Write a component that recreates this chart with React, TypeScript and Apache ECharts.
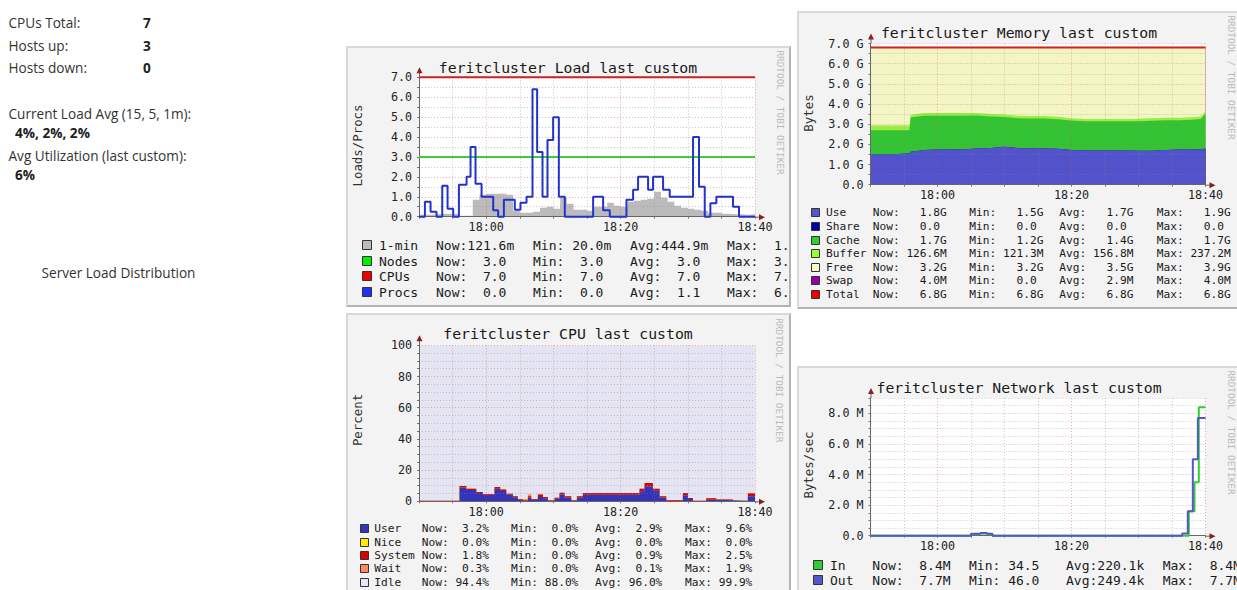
import React, { useEffect, useRef } from 'react';
import * as echarts from 'echarts';

const MONO = '"DejaVu Sans Mono", monospace';
const SANS = '"Open Sans", sans-serif';
const MAJOR = 'rgba(210,80,80,0.45)';
const MINOR = 'rgba(140,140,140,0.45)';

// ---- time axis (minutes relative to 18:00) ----
const timeTickValues = [0, 20, 40];
const timeTickLabels = ['18:00', '18:20', '18:40'];
const flatT = [-10, 40];

// ---- Load ----
const oneMinT = [-10, -9, -8, -7, -6, -5, -4, -3, -2, -1, 0, 1, 2, 3, 4, 5, 6, 7, 8, 9, 10, 11, 12, 13, 14, 15, 16, 17, 18, 19, 20, 21, 22, 23, 24, 25, 26, 27, 28, 29, 30, 31, 32, 33, 34, 35, 36, 37, 38, 39, 40];
const oneMinLoad = [0.10, 0.10, 0.12, 0.15, 0.15, 0.12, 0.05, 0.05, 0.85, 1.10, 1.15, 1.15, 1.15, 1.10, 0.30, 0.20, 0.20, 0.25, 0.45, 0.50, 0.40, 0.95, 0.65, 0.35, 0.35, 0.30, 0.50, 0.50, 0.70, 0.55, 0.50, 0.75, 0.80, 0.85, 0.90, 1.25, 0.95, 0.75, 0.55, 0.45, 0.40, 0.35, 0.30, 0.20, 0.20, 0.15, 0.12, 0.12, 0.10, 0.12, 0.12];
const procsT = [-10, -9.12, -8.28, -7.39, -6.54, -5.75, -4.91, -4.06, -2.92, -2.33, -1.59, -0.69, 1.04, 1.78, 2.63, 4.26, 5.10, 6.0, 6.89, 7.58, 8.38, 9.12, 9.96, 10.81, 11.70, 15.91, 17.40, 18.39, 20.87, 21.86, 22.6, 24.09, 24.83, 26.32, 27.31, 30.78, 31.67, 32.52, 33.36, 34.25, 36.73, 37.62, 40];
const procsCount = [0, 0.75, 0.25, 0, 1.55, 0.4, 0, 1.6, 2.0, 3.5, 1.65, 1.0, 0.33, 0, 0.85, 0.35, 0.7, 1.0, 6.4, 3.25, 1.0, 3.85, 5.0, 1.0, 0, 1.0, 0.33, 0, 0.85, 1.35, 2.0, 1.35, 2.0, 1.35, 1.0, 4.0, 1.5, 0, 0.67, 1.0, 0.5, 0, 0];
const nodesCount = [3.0, 3.0];
const cpusCount = [7.0, 7.0];
const loadTickValues = [0, 1, 2, 3, 4, 5, 6, 7];
const loadTickLabels = ['0.0', '1.0', '2.0', '3.0', '4.0', '5.0', '6.0', '7.0'];

// ---- Memory (GB) ----
const memT = [-10, -8, -6, -4.2, -4, -2, 0, 2, 4, 6, 8, 10, 12, 14, 16, 18, 20, 22, 24, 26, 28, 30, 32, 34, 36, 38, 39.3, 40];
const memUse = [1.5, 1.5, 1.52, 1.55, 1.63, 1.72, 1.75, 1.75, 1.76, 1.8, 1.82, 1.88, 1.82, 1.8, 1.8, 1.78, 1.72, 1.7, 1.7, 1.7, 1.7, 1.68, 1.68, 1.72, 1.74, 1.75, 1.76, 1.8];
const memShare = [0, 0, 0, 0, 0, 0, 0, 0, 0, 0, 0, 0, 0, 0, 0, 0, 0, 0, 0, 0, 0, 0, 0, 0, 0, 0, 0, 0];
const memCache = [1.2, 1.2, 1.18, 1.15, 1.7, 1.7, 1.67, 1.67, 1.66, 1.63, 1.56, 1.48, 1.48, 1.48, 1.48, 1.47, 1.46, 1.44, 1.44, 1.44, 1.44, 1.47, 1.49, 1.48, 1.46, 1.47, 1.5, 1.7];
const memBuffer = [0.23, 0.23, 0.23, 0.23, 0.14, 0.13, 0.13, 0.13, 0.13, 0.13, 0.12, 0.12, 0.12, 0.12, 0.12, 0.12, 0.12, 0.12, 0.12, 0.12, 0.12, 0.12, 0.12, 0.12, 0.12, 0.12, 0.125, 0.127];
const memFree = [3.87, 3.87, 3.87, 3.87, 3.33, 3.25, 3.25, 3.25, 3.25, 3.24, 3.30, 3.32, 3.38, 3.40, 3.40, 3.43, 3.50, 3.54, 3.54, 3.54, 3.54, 3.53, 3.51, 3.48, 3.48, 3.46, 3.415, 3.17];
const memSwap = [0, 0, 0, 0, 0, 0.003, 0.003, 0.003, 0.003, 0.003, 0.003, 0.003, 0.003, 0.003, 0.003, 0.003, 0.003, 0.003, 0.003, 0.003, 0.003, 0.004, 0.004, 0.004, 0.004, 0.004, 0.004, 0.004];
const memTotal = [6.8, 6.8];
const memTickValues = [0, 1, 2, 3, 4, 5, 6, 7];
const memTickLabels = ['0.0', '1.0 G', '2.0 G', '3.0 G', '4.0 G', '5.0 G', '6.0 G', '7.0 G'];

// ---- CPU (%) ----
const cpuT = [-10, -3.96, -2.97, -1.48, -0.49, 1.24, 2.09, 2.98, 3.97, 4.72, 5.46, 6.21, 6.70, 7.69, 8.44, 9.18, 10.17, 10.92, 11.66, 12.65, 13.5, 14.39, 22.82, 23.57, 24.81, 25.8, 26.79, 29.27, 30.01, 30.76, 32.74, 34.23, 36.71, 38.94, 40];
const cpuUser = [0.2, 8.8, 7.3, 5.3, 4.0, 8.1, 6.6, 4.2, 2.6, 1.0, 0.4, 2.2, 1.0, 2.8, 1.9, 0.3, 1.6, 4.4, 2.5, 0.3, 2.4, 4.2, 6.5, 9.6, 6.8, 2.4, 0.1, 3.8, 1.4, 0.2, 1.0, 0.6, 0.2, 3.2, 3.2];
const cpuNice = [0, 0, 0, 0, 0, 0, 0, 0, 0, 0, 0, 0, 0, 0, 0, 0, 0, 0, 0, 0, 0, 0, 0, 0, 0, 0, 0, 0, 0, 0, 0, 0, 0, 0, 0];
const cpuSystem = [0.2, 1.0, 0.8, 0.7, 0.5, 1.1, 0.9, 0.7, 0.6, 0.5, 0.3, 1.0, 0.5, 1.5, 0.9, 0.3, 0.7, 1.1, 0.7, 0.3, 0.8, 1.1, 1.6, 2.1, 1.3, 0.8, 0.5, 1.5, 0.7, 0.2, 0.9, 0.5, 0.2, 1.8, 1.8];
const cpuWait = [0, 0, 0, 0, 0, 0, 0, 0, 0, 0, 0.8, 1.3, 0, 0, 0, 0, 0, 0, 0, 0, 0, 0, 0, 0, 0, 0, 0, 0, 0, 0, 0, 0, 0, 0.3, 0.3];
const cpuIdle = [99.6, 90.2, 91.9, 94.0, 95.5, 90.8, 92.5, 95.1, 96.8, 98.5, 98.5, 95.5, 98.5, 95.7, 97.2, 99.4, 97.7, 94.5, 96.8, 99.4, 96.8, 94.7, 91.9, 88.3, 91.9, 96.8, 99.4, 94.7, 97.9, 99.6, 98.1, 98.9, 99.6, 94.7, 94.7];
const cpuTickValues = [0, 20, 40, 60, 80, 100];
const cpuTickLabels = ['0', '20', '40', '60', '80', '100'];

// ---- Network (MB/s) ----
const netInT = [-10, 5.0, 6.4, 7.4, 8.2, 37.51, 38.36, 39.0, 40];
const netIn = [0.00004, 0.1, 0.15, 0.1, 0.00004, 1.6, 3.5, 8.4, 8.4];
const netOutT = [-10, 5.0, 6.4, 7.4, 8.2, 36.52, 37.36, 38.11, 38.86, 40];
const netOut = [0.00005, 0.12, 0.18, 0.12, 0.00005, 0.15, 1.6, 5.0, 7.7, 7.7];
const netTickValues = [0, 2, 4, 6, 8];
const netTickLabels = ['0.0', '2.0 M', '4.0 M', '6.0 M', '8.0 M'];

// ---- legends ----
const loadLegend = [
  { label: '1-min', color: '#bbbbbb', fields: ['Now:121.6m', 'Min: 20.0m', 'Avg:444.9m', 'Max:  1.2'] },
  { label: 'Nodes', color: '#00ee00', fields: ['Now:  3.0', 'Min:  3.0', 'Avg:  3.0', 'Max:  3.0'] },
  { label: 'CPUs', color: '#ee0000', fields: ['Now:  7.0', 'Min:  7.0', 'Avg:  7.0', 'Max:  7.0'] },
  { label: 'Procs', color: '#2030f4', fields: ['Now:  0.0', 'Min:  0.0', 'Avg:  1.1', 'Max:  6.4'] },
];
const memLegend = [
  { label: 'Use', color: '#5555cc', fields: ['Now:   1.8G', 'Min:   1.5G', 'Avg:   1.7G', 'Max:   1.9G'] },
  { label: 'Share', color: '#0000aa', fields: ['Now:   0.0', 'Min:   0.0', 'Avg:   0.0', 'Max:   0.0'] },
  { label: 'Cache', color: '#33cc33', fields: ['Now:   1.7G', 'Min:   1.2G', 'Avg:   1.4G', 'Max:   1.7G'] },
  { label: 'Buffer', color: '#99ff33', fields: ['Now: 126.6M', 'Min: 121.3M', 'Avg: 156.8M', 'Max: 237.2M'] },
  { label: 'Free', color: '#f8f8cc', fields: ['Now:   3.2G', 'Min:   3.2G', 'Avg:   3.5G', 'Max:   3.9G'] },
  { label: 'Swap', color: '#9900aa', fields: ['Now:   4.0M', 'Min:   0.0', 'Avg:   2.9M', 'Max:   4.0M'] },
  { label: 'Total', color: '#ee0000', fields: ['Now:   6.8G', 'Min:   6.8G', 'Avg:   6.8G', 'Max:   6.8G'] },
];
const cpuLegend = [
  { label: 'User', color: '#3333bb', fields: ['Now:  3.2%', 'Min:  0.0%', 'Avg:  2.9%', 'Max:  9.6%'] },
  { label: 'Nice', color: '#ffea00', fields: ['Now:  0.0%', 'Min:  0.0%', 'Avg:  0.0%', 'Max:  0.0%'] },
  { label: 'System', color: '#dd0000', fields: ['Now:  1.8%', 'Min:  0.0%', 'Avg:  0.9%', 'Max:  2.5%'] },
  { label: 'Wait', color: '#ff8a60', fields: ['Now:  0.3%', 'Min:  0.0%', 'Avg:  0.1%', 'Max:  1.9%'] },
  { label: 'Idle', color: '#e6e6f4', fields: ['Now: 94.4%', 'Min: 88.0%', 'Avg: 96.0%', 'Max: 99.9%'] },
];
const netLegend = [
  { label: 'In', color: '#33cc33', fields: ['Now:  8.4M', 'Min: 34.5', 'Avg:220.1k', 'Max:  8.4M'] },
  { label: 'Out', color: '#5555cc', fields: ['Now:  7.7M', 'Min: 46.0', 'Avg:249.4k', 'Max:  7.7M'] },
];

// ---- left summary ----
const summaryRows = [
  { label: 'CPUs Total:', value: '7' },
  { label: 'Hosts up:', value: '3' },
  { label: 'Hosts down:', value: '0' },
];
const loadAvgLabel = 'Current Load Avg (15, 5, 1m):';
const loadAvgValue = '4%, 2%, 2%';
const utilLabel = 'Avg Utilization (last custom):';
const utilValue = '6%';
const distLabel = 'Server Load Distribution';

const NB = (s: string) => s.replace(/ /g, '\u00a0');
const pairs = (t: number[], v: number[]) => t.map((x, i) => [x, v[i]]);
const pick = (ticks: number[], labels: string[]) => (v: number) => {
  const i = ticks.findIndex((t) => Math.abs(t - v) < 1e-6);
  return i >= 0 ? labels[i] : '';
};
// running totals of stacked layers (bottom layer first)
const stackTops = (layers: number[][]) => {
  const out: number[][] = [];
  layers.forEach((layer, k) => {
    out.push(layer.map((v, i) => (k === 0 ? v : out[k - 1][i] + v)));
  });
  return out;
};

function txt(x: number, y: number, text: string, font: string, fill: string, align = 'left', rotation = 0) {
  return {
    type: 'text', x, y, rotation, z: 100, silent: true,
    style: { text, font, fill, align, verticalAlign: 'middle', textAlign: align, textVerticalAlign: 'middle' },
  };
}

function buildOption(spec: any) {
  const { left: L, top: T, width: W, height: H } = spec.grid;
  const R = L + W;
  const B = T + H;
  const yColors = [MAJOR];
  for (let i = 1; i < spec.yMajorEvery; i++) yColors.push(MINOR);
  const lg = spec.legend;
  const font = `${lg.fontSize}px ${MONO}`;
  const graphic: any[] = [
    txt(220, spec.titleY, spec.title, `14.8px ${MONO}`, '#1a1a1a', 'center'),
    txt(spec.yNameX, spec.yNameY, spec.yName, `12.4px ${MONO}`, '#333', 'center', Math.PI / 2),
    txt(spec.rrdX, spec.rrdY, 'RRDTOOL / TOBI OETIKER', `9.4px ${MONO}`, '#b9b9b9', 'center', -Math.PI / 2),
    { type: 'line', z: 100, silent: true, shape: { x1: L + 0.5, y1: T, x2: L + 0.5, y2: T - 5 }, style: { stroke: '#666', lineWidth: 1 } },
    { type: 'polygon', z: 100, silent: true, shape: { points: [[L + 0.5, T - 10], [L - 2.5, T - 4], [L + 3.5, T - 4]] }, style: { fill: '#8b2020' } },
    { type: 'line', z: 100, silent: true, shape: { x1: R, y1: B + 0.5, x2: R + 5, y2: B + 0.5 }, style: { stroke: '#666', lineWidth: 1 } },
    { type: 'polygon', z: 100, silent: true, shape: { points: [[R + 10, B + 0.5], [R + 4, B - 2.5], [R + 4, B + 3.5]] }, style: { fill: '#8b2020' } },
  ];
  lg.rows.forEach((row: any, i: number) => {
    const y = lg.rowYs[i];
    const s = lg.swSize;
    graphic.push({
      type: 'rect', z: 100, silent: true,
      shape: { x: lg.swX + 0.5, y: Math.round(y - s / 2) + 0.5, width: s - 1, height: s - 1 },
      style: { fill: row.color, stroke: '#333', lineWidth: 1 },
    });
    graphic.push(txt(lg.labelX, y, NB(row.label), font, '#1a1a1a'));
    row.fields.forEach((f: string, j: number) => {
      graphic.push(txt(lg.fieldXs[j], y, NB(f), font, '#1a1a1a'));
    });
  });

  return {
    animation: false,
    grid: { left: L, top: T, width: W, height: H, show: true, backgroundColor: '#ffffff', borderWidth: 0 },
    xAxis: {
      type: 'value', min: -10, max: 40, interval: 5, z: 3,
      axisLine: { show: true, onZero: false, lineStyle: { color: '#666', width: 1 } },
      axisTick: { show: true, length: 2, lineStyle: { color: '#777' } },
      axisLabel: { margin: 4.5, fontFamily: MONO, fontSize: 11.7, color: '#222', formatter: pick(timeTickValues, timeTickLabels) },
      splitLine: { show: true, lineStyle: { color: [MINOR, MINOR, MAJOR, MINOR], width: 1, type: [1, 2] } },
    },
    yAxis: {
      type: 'value', min: 0, max: spec.yMax, interval: spec.yInterval, z: 3,
      axisLine: { show: true, onZero: false, lineStyle: { color: '#666', width: 1 } },
      axisTick: { show: true, length: 2, lineStyle: { color: '#777' } },
      axisLabel: { margin: 7, fontFamily: MONO, fontSize: 11.7, color: '#222', formatter: pick(spec.yTicks, spec.yLabels) },
      splitLine: { show: true, lineStyle: { color: yColors, width: 1, type: [1, 2] } },
    },
    series: spec.series,
    graphic,
  };
}

const areaS = (name: string, t: number[], v: number[], color: string, step: any) => ({
  type: 'line', name, data: pairs(t, v), step, symbol: 'none', silent: true, z: 2,
  lineStyle: { width: 0, color }, areaStyle: { color, opacity: 1 },
});
const lineS = (name: string, t: number[], v: number[], color: string, step: any, z = 5) => ({
  type: 'line', name, data: pairs(t, v), step, symbol: 'none', silent: true, z, clip: false,
  lineStyle: { width: 2, color },
});
// stacked layers: drawn top layer first, each filled down to the baseline
const stackedAreas = (t: number[], layers: { name: string; values: number[]; color: string }[], step: any) => {
  const tops = stackTops(layers.map((l) => l.values));
  return layers.map((l, k) => areaS(l.name, t, tops[k], l.color, step)).reverse();
};

const loadOption = buildOption({
  grid: { left: 71, top: 29.3, width: 336, height: 139.4 },
  yMax: 7, yInterval: 0.5, yMajorEvery: 2, yTicks: loadTickValues, yLabels: loadTickLabels,
  series: [
    areaS('1-min', oneMinT, oneMinLoad, '#bbbbbb', 'end'),
    lineS('Nodes', flatT, nodesCount, '#3ccc3c', false, 5),
    lineS('CPUs', flatT, cpusCount, '#cc2020', false, 5),
    lineS('Procs', procsT, procsCount, '#2233cc', 'end', 6),
  ],
  title: 'feritcluster Load last custom', titleY: 19,
  yName: 'Loads/Procs', yNameX: 9.5, yNameY: 97.5,
  rrdX: 432.7, rrdY: 64.5,
  legend: { rows: loadLegend, rowYs: [197, 213, 228, 244], swX: 14, swSize: 10, labelX: 31, fieldXs: [88, 185, 282, 379], fontSize: 13 },
});

const memOption = buildOption({
  grid: { left: 71.5, top: 30.5, width: 335, height: 141.2 },
  yMax: 7, yInterval: 0.5, yMajorEvery: 2, yTicks: memTickValues, yLabels: memTickLabels,
  series: [
    ...stackedAreas(memT, [
      { name: 'Use', values: memUse, color: '#5252cc' },
      { name: 'Share', values: memShare, color: '#0000aa' },
      { name: 'Cache', values: memCache, color: '#33c433' },
      { name: 'Buffer', values: memBuffer, color: '#9cec44' },
      { name: 'Free', values: memFree, color: '#f3f5c4' },
      { name: 'Swap', values: memSwap, color: '#9900aa' },
    ], false),
    lineS('Total', flatT, memTotal, '#d42020', false, 5),
  ],
  title: 'feritcluster Memory last custom', titleY: 19,
  yName: 'Bytes', yNameX: 9.5, yNameY: 100,
  rrdX: 432.7, rrdY: 64.5,
  legend: { rows: memLegend, rowYs: [199.7, 213.7, 227, 240.3, 254.3, 267.7, 281], swX: 12, swSize: 9, labelX: 27, fieldXs: [73.7, 170.3, 260.3, 357.7], fontSize: 11.2 },
});

const cpuOption = buildOption({
  grid: { left: 71, top: 30.3, width: 336, height: 156 },
  yMax: 100, yInterval: 5, yMajorEvery: 4, yTicks: cpuTickValues, yLabels: cpuTickLabels,
  series: stackedAreas(cpuT, [
    { name: 'User', values: cpuUser, color: '#3333bb' },
    { name: 'Nice', values: cpuNice, color: '#ffea00' },
    { name: 'System', values: cpuSystem, color: '#dd0000' },
    { name: 'Wait', values: cpuWait, color: '#ff8a60' },
    { name: 'Idle', values: cpuIdle, color: '#e4e4f3' },
  ], 'end'),
  title: 'feritcluster CPU last custom', titleY: 18,
  yName: 'Percent', yNameX: 9.5, yNameY: 105,
  rrdX: 431, rrdY: 65.3,
  legend: { rows: cpuLegend, rowYs: [213.7, 227, 240.3, 253.7, 267], swX: 12, swSize: 9, labelX: 26.3, fieldXs: [73.7, 163, 247, 337], fontSize: 11.2 },
});

const netOption = buildOption({
  grid: { left: 71.5, top: 30, width: 335, height: 137.7 },
  yMax: 9, yInterval: 0.5, yMajorEvery: 4, yTicks: netTickValues, yLabels: netTickLabels,
  series: [
    lineS('In', netInT, netIn, '#33cc33', 'end', 5),
    lineS('Out', netOutT, netOut, '#5555cc', 'end', 6),
  ],
  title: 'feritcluster Network last custom', titleY: 19,
  yName: 'Bytes/sec', yNameX: 9.5, yNameY: 97,
  rrdX: 432.7, rrdY: 64.5,
  legend: { rows: netLegend, rowYs: [197, 212], swX: 14, swSize: 10, labelX: 31, fieldXs: [73.3, 170, 267, 363.7], fontSize: 13 },
});

const LF = `13.6px ${SANS}`;
const LFB = `bold 13.6px ${SANS}`;
const summaryY = [22.7, 45, 67.7];
const leftOption = {
  animation: false,
  graphic: [
    ...summaryRows.flatMap((r, i) => [
      txt(8.5, summaryY[i], r.label, LF, '#333'),
      txt(143, summaryY[i], r.value, LFB, '#222'),
    ]),
    txt(8.5, 113.3, loadAvgLabel, LF, '#333'),
    txt(15, 132.7, loadAvgValue, LFB, '#222'),
    txt(8.5, 155, utilLabel, LF, '#333'),
    txt(15, 174, utilValue, LFB, '#222'),
    txt(118.5, 272.7, distLabel, LF, '#333', 'center'),
  ],
};

function EChart({ option, width, height }: any) {
  const ref = useRef<HTMLDivElement>(null);
  useEffect(() => {
    const chart = echarts.init(ref.current as HTMLDivElement, undefined, { renderer: 'svg' });
    chart.setOption(option);
    return () => chart.dispose();
  }, [option]);
  return <div ref={ref} style={{ position: 'absolute', left: 0, top: 0, width, height }} />;
}

function Panel({ left, top, width, height, chartW, chartH, option }: any) {
  return (
    <div
      style={{
        position: 'absolute', left, top, width, height, boxSizing: 'border-box',
        borderStyle: 'solid', borderWidth: 2, borderColor: '#d9d9d9 #b3b3b3 #b3b3b3 #d9d9d9',
        background: '#f3f3f3', overflow: 'hidden',
      }}
    >
      <EChart option={option} width={chartW} height={chartH} />
    </div>
  );
}

export default function App() {
  return (
    <div style={{ position: 'absolute', left: 0, top: 0, width: 1237, height: 590, overflow: 'hidden', background: '#ffffff' }}>
      <EChart option={leftOption} width={320} height={300} />
      <Panel left={346} top={46} width={445} height={261} chartW={470} chartH={257} option={loadOption} />
      <Panel left={797} top={11} width={443} height={298} chartW={460} chartH={294} option={memOption} />
      <Panel left={346} top={313} width={445} height={290} chartW={470} chartH={290} option={cpuOption} />
      <Panel left={797} top={366} width={443} height={240} chartW={460} chartH={240} option={netOption} />
    </div>
  );
}
